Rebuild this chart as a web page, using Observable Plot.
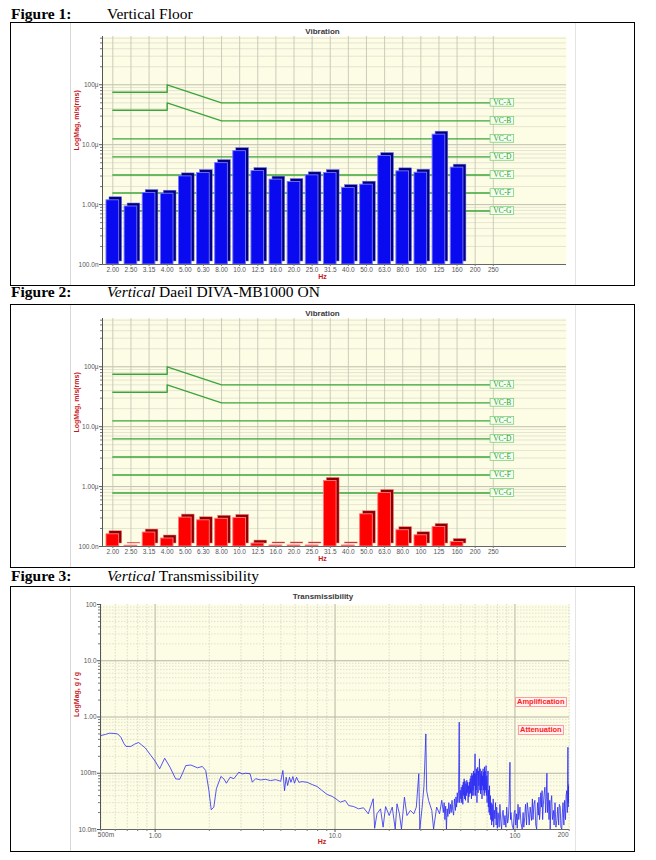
<!DOCTYPE html>
<html><head><meta charset="utf-8">
<script src="https://cdn.jsdelivr.net/npm/d3@7"></script>
<script src="https://cdn.jsdelivr.net/npm/@observablehq/plot@0.6"></script>
<style>
body{margin:0;background:#fff;}
#page{position:relative;width:656px;height:860px;overflow:hidden;font-family:"Liberation Serif","Times New Roman",serif;}
.cap{position:absolute;font-size:15.5px;line-height:16px;color:#000;white-space:nowrap;}
.box{position:absolute;border:1px solid #000;box-sizing:border-box;}
.img{position:absolute;border-left:1px solid #d8d8d8;border-right:1px solid #e4e4e4;box-sizing:border-box;}
.chart{position:absolute;}
.chart svg{display:block;}
.tag{position:absolute;font-family:"Liberation Sans",Arial,sans-serif;font-size:7.5px;line-height:8px;font-weight:bold;color:#ff1a1a;border:1px solid #ff9c9c;background:#fff2f2;padding:0 1px;white-space:nowrap;}
</style></head>
<body><div id="page">
<div class="cap" style="left:11px;top:6px"><b>Figure 1:</b></div>
<div class="cap" style="left:107px;top:6px">Vertical Floor</div>
<div class="box" style="left:10px;top:22px;width:625px;height:264px"></div>
<div class="img" style="left:70px;top:23px;width:506px;height:262px"></div>
<div class="chart" id="fig1" style="left:70px;top:23px"></div>

<div class="cap" style="left:11px;top:284px"><b>Figure 2:</b></div>
<div class="cap" style="left:107px;top:284px"><i>Vertical</i> Daeil DIVA-MB1000 ON</div>
<div class="box" style="left:10px;top:304px;width:625px;height:264px"></div>
<div class="img" style="left:70px;top:305px;width:506px;height:262px"></div>
<div class="chart" id="fig2" style="left:70px;top:305px"></div>

<div class="cap" style="left:11px;top:568px"><b>Figure 3:</b></div>
<div class="cap" style="left:107px;top:568px"><i>Vertical</i> Transmissibility</div>
<div class="box" style="left:10px;top:586px;width:625px;height:266px"></div>
<div class="img" style="left:70px;top:587px;width:506px;height:264px"></div>
<div class="chart" id="fig3" style="left:70px;top:586px"></div>
<div class="tag" style="left:515px;top:697px">Amplification</div>
<div class="tag" style="left:518px;top:725px">Attenuation</div>
</div>
<script>
// ---------- data ----------
const hzLabels = ["2.00","2.50","3.15","4.00","5.00","6.30","8.00","10.0","12.5","16.0","20.0","25.0","31.5","40.0","50.0","63.0","80.0","100","125","160","200","250"];
// velocity, μm/s rms (bars for 2.00 ... 160 Hz)
const floorVel = [1.18,0.93,1.56,1.52,2.96,3.36,4.93,7.8,3.63,2.61,2.38,3.08,3.36,1.89,2.15,6.46,3.59,3.41,14.7,4.14];
const divaVel  = [0.16,0.103,0.171,0.136,0.304,0.274,0.29,0.30,0.112,0.104,0.104,0.104,1.24,0.104,0.345,0.78,0.187,0.154,0.212,0.119];
const vcNames  = ["VC-A","VC-B","VC-C","VC-D","VC-E","VC-F","VC-G"];
const vcLevels = [50,25,12.5,6.25,3.12,1.56,0.78];
const vcCurveHz = ["2.00","4.00","4.00","8.00","250"];
const vcACurve = [75,75,100,50,50];
const vcBCurve = [37.5,37.5,50,25,25];
const velTickValues = [0.1,1,10,100];
const velTickLabels = ["100.0n","1.00μ","10.0μ","100μ"];

// transmissibility [Hz, g/g]
const transData = [
[0.5,0.469],[0.53,0.49],[0.556,0.515],[0.59,0.51],[0.619,0.5],[0.645,0.437],[0.67,0.34],[0.689,0.3],[0.733,0.3],[0.77,0.33],[0.809,0.352],[0.84,0.32],[0.881,0.283],[0.947,0.207],[1.0,0.164],[1.06,0.12],[1.13,0.185],[1.21,0.128],[1.3,0.0796],[1.37,0.078],[1.42,0.1],[1.48,0.137],[1.58,0.14],[1.72,0.125],[1.83,0.132],[1.91,0.112],[1.99,0.0494],[2.05,0.0224],[2.12,0.025],[2.19,0.053],[2.32,0.0875],[2.41,0.0796],[2.49,0.0665],[2.61,0.085],[2.74,0.08],[2.92,0.1045],[3.05,0.097],[3.18,0.1],[3.37,0.098],[3.47,0.0693],[3.62,0.08],[3.85,0.076],[4.11,0.078],[4.38,0.074],[4.67,0.077],[4.99,0.072],[5.13,0.112],[5.24,0.049],[5.35,0.085],[5.45,0.0605],[5.58,0.085],[5.69,0.069],[5.83,0.0875],[5.95,0.0665],[6.11,0.085],[6.29,0.069],[6.56,0.071],[7.0,0.069],[7.46,0.063],[7.96,0.058],[8.49,0.049],[9.04,0.042],[9.64,0.0387],[10.1,0.0352],[10.7,0.0306],[11.4,0.0328],[11.9,0.0267],[12.7,0.0256],[13.5,0.0233],[14.4,0.0243],[15.3,0.019],[16.3,0.0352],[16.6,0.0105],[17.1,0.019],[17.9,0.0233],[18.5,0.011],[19.1,0.0256],[20.0,0.0177],[20.8,0.025],[21.6,0.0102],[22.1,0.0286],[22.8,0.019],[23.4,0.0102],[24.3,0.0376],[25.1,0.0177],[26.2,0.0218],[27.4,0.019],[28.3,0.025],[29.2,0.098],[29.6,0.0102],[30.5,0.025],[31.2,0.059],[31.97,0.5],[32.3,0.049],[33.1,0.0328],[34.5,0.0218],[35.3,0.0102],[36.7,0.025],[38.1,0.019],[39.2,0.033],[40.0,0.02],[40.4,0.03],[40.8,0.015],[41.2,0.026],[41.6,0.0102],[42.0,0.0233],[42.4,0.017],[42.9,0.03],[43.3,0.019],[43.8,0.028],[44.2,0.02],[44.7,0.033],[45.1,0.022],[45.6,0.018],[46.1,0.035],[46.7,0.0218],[47.0,0.038],[47.4,0.025],[47.8,0.045],[48.2,0.03],[48.6,0.049],[49.0,0.81],[49.3,0.03],[49.6,0.05],[50.0,0.035],[50.3,0.0565],[50.6,0.03],[51.0,0.062],[51.3,0.028],[51.6,0.07],[51.9,0.04],[52.2,0.0796],[52.5,0.035],[52.8,0.072],[53.1,0.033],[53.4,0.065],[53.7,0.04],[54.0,0.075],[54.3,0.045],[54.6,0.069],[54.9,0.03],[55.2,0.06],[55.5,0.038],[55.8,0.07],[56.1,0.043],[56.4,0.08],[56.7,0.045],[57.0,0.09],[57.3,0.035],[57.6,0.1],[57.9,0.04],[58.2,0.0912],[58.5,0.05],[58.8,0.11],[59.1,0.04],[59.4,0.1],[59.7,0.06],[60.0,0.222],[60.3,0.04],[60.6,0.1],[60.9,0.05],[61.2,0.12],[61.5,0.03],[61.8,0.09],[62.1,0.128],[62.4,0.045],[62.7,0.11],[63.0,0.06],[63.5,0.181],[63.8,0.05],[64.1,0.12],[64.4,0.043],[64.7,0.098],[65.0,0.05],[65.3,0.11],[65.6,0.035],[65.9,0.09],[66.2,0.06],[66.5,0.12],[66.8,0.05],[67.1,0.1045],[67.4,0.04],[67.7,0.13],[68.0,0.045],[68.3,0.11],[68.6,0.05],[69.1,0.137],[69.4,0.04],[69.7,0.09],[70.0,0.03],[70.4,0.0565],[70.8,0.11],[71.1,0.025],[71.4,0.05],[71.8,0.02],[72.2,0.06],[72.6,0.018],[73.0,0.04],[73.4,0.015],[73.8,0.03],[74.2,0.012],[74.7,0.028],[75.2,0.014],[75.7,0.035],[76.2,0.011],[76.8,0.022],[77.4,0.0155],[78.0,0.03],[78.6,0.012],[79.2,0.025],[79.8,0.0105],[80.4,0.02],[80.9,0.019],[81.7,0.011],[82.5,0.028],[83.4,0.014],[84.3,0.0102],[85.2,0.02],[86,0.022],[87,0.012],[88,0.0177],[89,0.011],[90,0.025],[91,0.013],[91.9,0.0155],[92.8,0.03],[93.8,0.157],[94.5,0.015],[95,0.02],[96.5,0.012],[98,0.0102],[99,0.02],[100,0.022],[101,0.012],[102,0.019],[103,0.0105],[104,0.028],[105,0.015],[106.6,0.025],[108,0.013],[109.7,0.0102],[111,0.02],[112,0.011],[113.3,0.0165],[114.5,0.028],[116,0.012],[117,0.03],[118.4,0.0218],[120,0.012],[121.5,0.025],[123.6,0.0145],[125,0.035],[126,0.015],[127.5,0.028],[129,0.033],[130.5,0.012],[132,0.0102],[133.5,0.03],[135,0.018],[136,0.0376],[137,0.015],[138,0.02],[139.2,0.045],[140.5,0.025],[141.5,0.049],[142.5,0.015],[143.5,0.025],[145,0.04],[146.7,0.0565],[148,0.02],[149,0.03],[150.5,0.1],[151.5,0.02],[153,0.045],[154.6,0.015],[156,0.033],[157,0.0102],[158.5,0.03],[160,0.04],[161.5,0.015],[163.6,0.0218],[165,0.012],[167,0.03],[169,0.011],[171,0.0145],[173,0.025],[175,0.012],[176.5,0.028],[178.5,0.025],[180,0.011],[182,0.0102],[183.5,0.02],[185,0.03],[187,0.012],[188.8,0.033],[190,0.02],[191,0.015],[192.5,0.04],[194,0.049],[195.5,0.02],[197,0.29],[197.8,0.03],[198.5,0.06],[199.2,0.025],[199.8,0.065]
];
const transTickValues = [0.01,0.1,1,10,100];
const transTickLabels = ["10.0m","100m","1.00","10.0","100"];
const freqTickValues = [0.5,1,10,100,200];
const freqTickLabels = ["500m","1.00","10.0","100","200"];

// ---------- helpers ----------
const tickFont = {fontFamily: "'Liberation Sans', Arial, sans-serif", fontSize: "6.5px", color: "#555", background: "transparent", overflow: "visible"};
const labelRed = "#c8161d";
function minorLog(lo, hi) {
  const out = [];
  for (let e = Math.floor(Math.log10(lo)); e <= Math.ceil(Math.log10(hi)); e++)
    for (let m = 2; m <= 9; m++) { const v = m * Math.pow(10, e); if (v > lo && v < hi) out.push(v); }
  return out;
}

function vibChart(values, front, back, edge) {
  const xDom = [-0.57, 25.04], yDom = [0.1, 640];
  const bars = values.map((v, i) => ({i, v}));
  const idx = h => hzLabels.indexOf(h);
  const vcLines = vcNames.flatMap((n, k) => {
    if (k === 0) return vcCurveHz.map((h, j) => ({n, i: idx(h), v: vcACurve[j]}));
    if (k === 1) return vcCurveHz.map((h, j) => ({n, i: idx(h), v: vcBCurve[j]}));
    return [{n, i: 0, v: vcLevels[k]}, {n, i: hzLabels.length - 1, v: vcLevels[k]}];
  });
  const vc = vcNames.map((n, k) => ({n, v: vcLevels[k]}));
  const last = hzLabels.length - 1;
  return Plot.plot({
    width: 506, height: 262,
    marginLeft: 32, marginRight: 10, marginTop: 13, marginBottom: 21,
    style: tickFont,
    x: {type: "linear", domain: xDom, axis: null},
    y: {type: "log", domain: yDom, axis: null},
    marks: [
      Plot.frame({fill: "#fdfde6", stroke: null}),
      Plot.ruleY(minorLog(yDom[0], yDom[1]), {stroke: "#dadac8", strokeWidth: 0.7}),
      Plot.ruleY([1, 10, 100], {stroke: "#b8b8a6", strokeWidth: 0.9}),
      Plot.ruleX(d3.range(hzLabels.length), {stroke: "#c6c6b6", strokeWidth: 0.9}),
      Plot.line(vcLines, {x: "i", y: "v", z: "n", stroke: "#3aa53a", strokeWidth: 1.4}),
      Plot.rect(bars, {x1: d => d.i - 0.35, x2: d => d.i + 0.35, y1: () => yDom[0], y2: "v", dx: 3, dy: -3, fill: back, stroke: edge, strokeWidth: 0.5}),
      Plot.rect(bars, {x1: d => d.i - 0.35, x2: d => d.i + 0.35, y1: () => yDom[0], y2: "v", fill: front, stroke: edge, strokeWidth: 0.9}),
      Plot.rect(vc, {x1: () => last - 0.15, x2: () => last + 1.15, y1: d => d.v / 1.16, y2: d => d.v * 1.16, fill: "#f4fff0", stroke: "#7fcf7f", strokeWidth: 0.8}),
      Plot.text(vc, {x: () => last + 0.5, y: "v", text: "n", fill: "#2b9a2b", fontSize: 7.5, fontFamily: "'Liberation Serif', serif"}),
      Plot.ruleX([xDom[0]], {stroke: "#555", strokeWidth: 1}),
      Plot.ruleY([yDom[0]], {stroke: "#666", strokeWidth: 1}),
      Plot.axisY({ticks: velTickValues, tickFormat: d => velTickLabels[velTickValues.indexOf(d)], tickSize: 3, tickPadding: 1, stroke: "#555", label: null}),
      Plot.axisY({ticks: minorLog(yDom[0], yDom[1]), tickFormat: () => "", tickSize: 2, stroke: "#777", label: null}),
      Plot.axisX({ticks: d3.range(hzLabels.length), tickFormat: i => hzLabels[i], tickSize: 2, tickPadding: 1, stroke: "#777", label: null}),
      Plot.text(["Vibration"], {text: d => d, frameAnchor: "top", dx: -12, dy: -8, fontWeight: "bold", fontSize: 8, fill: "#3a3a3a"}),
      Plot.text(["LogMag, m/s(rms)"], {text: d => d, frameAnchor: "left", dx: -26, rotate: -90, fontWeight: "bold", fontSize: 7, fill: labelRed}),
      Plot.text(["Hz"], {text: d => d, frameAnchor: "bottom", dx: -12, dy: 14, fontWeight: "bold", fontSize: 7, fill: labelRed})
    ]
  });
}

document.getElementById("fig1").append(vibChart(floorVel, "#0a0af0", "#00007c", "#7676ff"));
document.getElementById("fig2").append(vibChart(divaVel, "#ff0000", "#8c0000", "#ff7a7a"));

// ---------- transmissibility ----------
const trans = transData.map(([f, t]) => ({f, t}));
const xD = [0.497, 201], yD = [0.01, 100];
const fig3 = Plot.plot({
  width: 506, height: 265,
  marginLeft: 30, marginRight: 7, marginTop: 18, marginBottom: 22,
  style: tickFont,
  x: {type: "log", domain: xD, axis: null},
  y: {type: "log", domain: yD, axis: null},
  marks: [
    Plot.frame({fill: "#fdfde6", stroke: null}),
    Plot.ruleX(minorLog(xD[0], xD[1]), {stroke: "#cfcfbd", strokeWidth: 0.7, strokeDasharray: "1.5,1.5"}),
    Plot.ruleX([1, 10, 100], {stroke: "#b4b4a2", strokeWidth: 1}),
    Plot.ruleY(minorLog(yD[0], yD[1]), {stroke: "#d6d6c4", strokeWidth: 0.7, strokeDasharray: "1.5,1.5"}),
    Plot.ruleY([0.1, 1, 10], {stroke: "#b4b4a2", strokeWidth: 1}),
    Plot.line(trans, {x: "f", y: "t", stroke: "#2a2af5", strokeWidth: 0.8, clip: true}),
    Plot.ruleX([xD[0]], {stroke: "#555", strokeWidth: 1}),
    Plot.ruleY([yD[0]], {stroke: "#666", strokeWidth: 1}),
    Plot.axisY({ticks: transTickValues, tickFormat: d => transTickLabels[transTickValues.indexOf(d)], tickSize: 3, tickPadding: 1, stroke: "#555", label: null}),
    Plot.axisY({ticks: minorLog(yD[0], yD[1]), tickFormat: () => "", tickSize: 2, stroke: "#777", label: null}),
    Plot.axisX({ticks: freqTickValues.slice(1, 4), tickFormat: d => freqTickLabels[freqTickValues.indexOf(d)], tickSize: 3, tickPadding: 1, stroke: "#555", label: null}),
    Plot.axisX({ticks: minorLog(xD[0], xD[1]), tickFormat: () => "", tickSize: 2, stroke: "#777", label: null}),
    Plot.text([0], {x: () => freqTickValues[0], text: () => freqTickLabels[0], frameAnchor: "bottom", dy: 7, dx: 5}),
    Plot.text([0], {x: () => freqTickValues[4], text: () => freqTickLabels[4], frameAnchor: "bottom", dy: 7, dx: -6}),
    Plot.text(["Transmissibility"], {text: d => d, frameAnchor: "top", dx: -12, dy: -11, fontWeight: "bold", fontSize: 8, fill: "#3a3a3a"}),
    Plot.text(["LogMag, g / g"], {text: d => d, frameAnchor: "left", dx: -24, rotate: -90, fontWeight: "bold", fontSize: 7, fill: labelRed}),
    Plot.text(["Hz"], {text: d => d, frameAnchor: "bottom", dx: -13, dy: 14, fontWeight: "bold", fontSize: 7, fill: labelRed})
  ]
});
document.getElementById("fig3").append(fig3);
</script>
</body></html>
